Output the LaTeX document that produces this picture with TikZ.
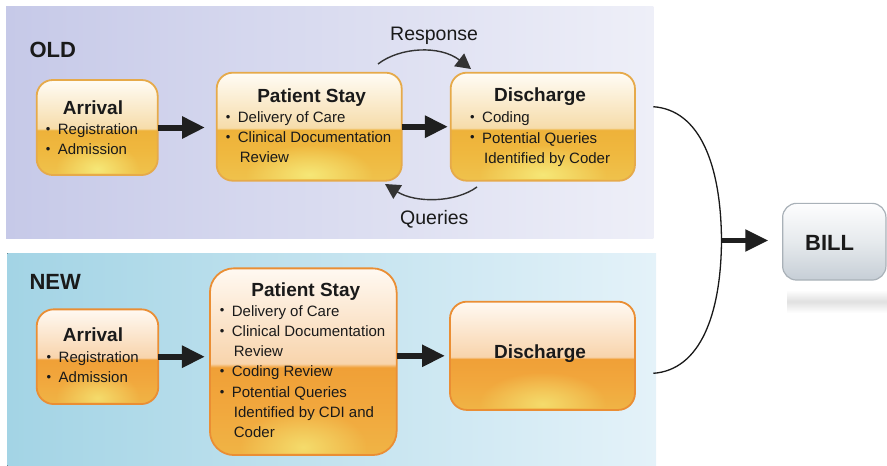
\documentclass[tikz,border=0pt]{standalone}
\usepackage{fontspec}
\setmainfont{Liberation Sans}
\usetikzlibrary{arrows.meta,fadings}
\definecolor{oldL}{HTML}{C6C9E8}
\definecolor{oldR}{HTML}{EEEFF8}
\definecolor{newL}{HTML}{A3D4E5}
\definecolor{newR}{HTML}{E4F2F9}
\definecolor{og1}{HTML}{EFC24C}
\definecolor{og2}{HTML}{EFB83F}
\definecolor{og3}{HTML}{EEB23A}
\definecolor{og4}{HTML}{F6DCAA}
\definecolor{og5}{HTML}{FFFCF5}
\definecolor{ng1}{HTML}{F0B445}
\definecolor{ng2}{HTML}{F1A73D}
\definecolor{ng3}{HTML}{F0A037}
\definecolor{ng4}{HTML}{F8D4AC}
\definecolor{ng5}{HTML}{FFF9F2}
\definecolor{bg1}{HTML}{C6CED6}
\definecolor{bg2}{HTML}{E6EAED}
\definecolor{bg3}{HTML}{FDFDFE}
\definecolor{oldborder}{HTML}{E6AA4A}
\definecolor{newborder}{HTML}{EA8E34}
\definecolor{billborder}{HTML}{A9B1B8}
\definecolor{oldglow}{HTML}{F7EC7C}
\definecolor{newglow}{HTML}{F5E070}
\definecolor{txt}{HTML}{1A1A1A}
\pgfdeclareverticalshading{oldgloss}{100bp}{color(0bp)=(og1); color(25bp)=(og1); color(38bp)=(og2); color(48.5bp)=(og3); color(49.5bp)=(og4); color(75bp)=(og5); color(100bp)=(og5)}
\pgfdeclareverticalshading{newgloss}{100bp}{color(0bp)=(ng1); color(25bp)=(ng1); color(38bp)=(ng2); color(48.5bp)=(ng3); color(49.5bp)=(ng4); color(75bp)=(ng5); color(100bp)=(ng5)}
\pgfdeclareverticalshading{billgloss}{100bp}{color(0bp)=(bg1); color(25bp)=(bg1); color(50bp)=(bg2); color(75bp)=(bg3); color(100bp)=(bg3)}
\tikzfading[name=glowfade, inner color=transparent!0, outer color=transparent!100]
\newcommand\bul{\makebox[12pt][l]{\raisebox{1.2pt}{\fontsize{13}{13}\selectfont\textbullet}}}
\newcommand\cont{\hspace*{14pt}}
\begin{document}
\begin{tikzpicture}[x=1pt,y=-1pt,
  oldbox/.style={rectangle, rounded corners=16pt, draw=oldborder, line width=1.8pt, shading=oldgloss, inner sep=0pt, outer sep=0pt},
  newbox/.style={rectangle, rounded corners=17pt, draw=newborder, line width=1.8pt, shading=newgloss, inner sep=0pt, outer sep=0pt},
  billbox/.style={rectangle, rounded corners=14pt, draw=billborder, line width=1.2pt, shading=billgloss, inner sep=0pt, outer sep=0pt},
  titletext/.style={font=\fontsize{19}{19}\selectfont\bfseries, text=txt, inner sep=0pt, anchor=base},
  bullettext/.style={font=\fontsize{15}{20.3}\selectfont, text=txt, inner sep=0pt, anchor=base west},
  headtext/.style={font=\fontsize{22}{22}\selectfont\bfseries, text=txt, inner sep=0pt, anchor=base west},
  arctext/.style={font=\fontsize{19.5}{19.5}\selectfont, text=txt, inner sep=0pt, anchor=base west},
  bigarrow/.style={line width=6pt, draw=black!88, -{Triangle[length=23pt,width=21pt]}},
  thinarrow/.style={line width=1.4pt, draw=black!80, -{Triangle[length=15pt,width=16pt]}},
  glowfill/.style={path fading=glowfade, opacity=0.9}]
\useasboundingbox (0,0) rectangle (887,466);
\begin{scope}
\clip (0,0) rectangle (887,466);
% panels
\fill[left color=oldL, right color=oldR] (6,6) rectangle (653.3,238.3);
\fill[left color=newL, right color=newR] (7.3,253.3) rectangle (656,466);
% boxes
\node[oldbox, minimum width=121pt, minimum height=95pt] (oa) at (97.2,127.5) {};
\node[oldbox, minimum width=185pt, minimum height=108pt] (ops) at (309.2,126.7) {};
\node[oldbox, minimum width=184.3pt, minimum height=108pt] (od) at (542.8,126.7) {};
\node[newbox, minimum width=121.6pt, minimum height=94.7pt] (na) at (97.5,356.7) {};
\node[newbox, minimum width=186.7pt, minimum height=186.7pt, rounded corners=24pt] (nps) at (303.3,361.7) {};
\node[newbox, minimum width=185pt, minimum height=108.3pt] (nd) at (542.5,355.8) {};
% glows
\begin{scope}
\clip[rounded corners=15pt] ([shift={(1.5,1.5)}]oa.north west) rectangle ([shift={(-1.5,-1.5)}]oa.south east);
\fill[oldglow, glowfill] ([yshift=6pt]oa.south) ellipse [x radius=42, y radius=28];
\end{scope}
\begin{scope}
\clip[rounded corners=15pt] ([shift={(1.5,1.5)}]ops.north west) rectangle ([shift={(-1.5,-1.5)}]ops.south east);
\fill[oldglow, glowfill] ([yshift=6pt]ops.south) ellipse [x radius=64, y radius=30];
\end{scope}
\begin{scope}
\clip[rounded corners=15pt] ([shift={(1.5,1.5)}]od.north west) rectangle ([shift={(-1.5,-1.5)}]od.south east);
\fill[oldglow, glowfill] ([yshift=6pt]od.south) ellipse [x radius=64, y radius=30];
\end{scope}
\begin{scope}
\clip[rounded corners=16pt] ([shift={(1.5,1.5)}]na.north west) rectangle ([shift={(-1.5,-1.5)}]na.south east);
\fill[newglow, glowfill] ([yshift=6pt]na.south) ellipse [x radius=42, y radius=28];
\end{scope}
\begin{scope}
\clip[rounded corners=23pt] ([shift={(1.5,1.5)}]nps.north west) rectangle ([shift={(-1.5,-1.5)}]nps.south east);
\fill[newglow, glowfill] ([yshift=8pt]nps.south) ellipse [x radius=64, y radius=38];
\end{scope}
\begin{scope}
\clip[rounded corners=16pt] ([shift={(1.5,1.5)}]nd.north west) rectangle ([shift={(-1.5,-1.5)}]nd.south east);
\fill[newglow, glowfill] ([yshift=6pt]nd.south) ellipse [x radius=64, y radius=32];
\end{scope}
% bill box and its shadow
\shade[top color=white, bottom color=white, middle color=black!12] (787,290) rectangle (892,313);
\node[billbox, minimum width=103.3pt, minimum height=76.7pt] (bill) at (834.3,241.7) {};
\end{scope}
% labels
\node[headtext] (oldlbl) at (29.3,57.3) {OLD};
\node[headtext] (newlbl) at (29.3,289.3) {NEW};
\node[headtext] (billlbl) at (805,250) {BILL};
% old texts
\node[titletext] (oat) at (93,114) {Arrival};
\node[bullettext] (oab) at (45.7,134.3) {\parbox[t]{150pt}{\raggedright\bul Registration\\\bul Admission}};
\node[titletext] (opst) at (311.7,102) {Patient Stay};
\node[bullettext] (opsb) at (225.7,122.3) {\parbox[t]{200pt}{\raggedright\bul Delivery of Care\\\bul Clinical Documentation\\\cont Review}};
\node[titletext] (odt) at (540,101.7) {Discharge};
\node[bullettext] (odb) at (470,122.7) {\parbox[t]{200pt}{\raggedright\bul Coding\\\bul Potential Queries\\\cont Identified by Coder}};
% new texts
\node[titletext] (nat) at (93,341) {Arrival};
\node[bullettext] (nab) at (46.5,362.3) {\parbox[t]{150pt}{\raggedright\bul Registration\\\bul Admission}};
\node[titletext] (npst) at (305.8,296) {Patient Stay};
\node[bullettext] (npsb) at (219.7,316) {\parbox[t]{200pt}{\raggedright\bul Delivery of Care\\\bul Clinical Documentation\\\cont Review\\\bul Coding Review\\\bul Potential Queries\\\cont Identified by CDI and\\\cont Coder}};
\node[titletext] (ndt) at (540,358.3) {Discharge};
% arc labels
\node[arctext] (resp) at (390,40.7) {Response};
\node[arctext] (quer) at (400,224) {Queries};
% thick arrows
\draw[bigarrow, shorten >=11.7pt] (oa.east) -- (oa.east -| ops.west);
\draw[bigarrow, shorten >=2.7pt] (ops.east) -- (ops.east -| od.west);
\draw[bigarrow, shorten >=5pt] (na.east) -- (na.east -| nps.west);
\draw[bigarrow, shorten >=5pt] (nps.east |- nd.west) -- (nd.west);
% response / queries arcs
\coordinate (r1) at (378,64);
\coordinate (r2) at (471,69);
\coordinate (q1) at (477,187);
\coordinate (q2) at (385,184);
\draw[thinarrow] (r1) .. controls (400,47) and (440,45) .. (r2);
\draw[thinarrow] (q1) .. controls (455,203) and (415,203) .. (q2);
% bracket to bill
\coordinate (b1) at (653.3,106.7);
\coordinate (b2) at (653.3,373.3);
\coordinate (bm) at (721.5,240.5);
\draw[line width=1.3pt, black!90] (b1) .. controls (700,110) and (721,165) .. (bm) .. controls (721,315) and (700,370) .. (b2);
\draw[line width=5pt, draw=black!88, -{Triangle[length=23pt,width=21pt]}, shorten >=14.4pt] (bm) -- (bm -| bill.west);
\end{tikzpicture}
\end{document}
